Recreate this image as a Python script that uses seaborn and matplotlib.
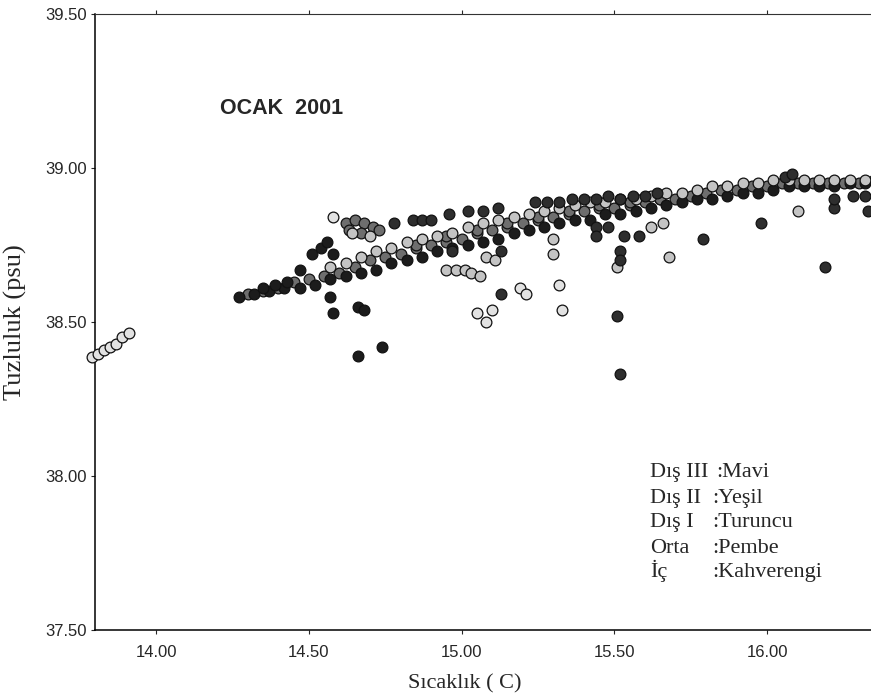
import numpy as np
import pandas as pd
import matplotlib
matplotlib.use("Agg")
import matplotlib.pyplot as plt
import seaborn as sns

# --- data (Sicaklik, Tuzluluk) ---

# Ic (Kahverengi): lower edge of the main band + dark points on the left
ic_T = [14.27, 14.32, 14.37, 14.42, 14.47, 14.52, 14.57, 14.62, 14.67, 14.72,
        14.77, 14.82, 14.87, 14.92, 14.97, 15.02, 15.07, 15.12, 15.17, 15.22,
        15.27, 15.32, 15.37, 15.42, 15.47, 15.52, 15.57, 15.62, 15.67, 15.72,
        15.77, 15.82, 15.87, 15.92, 15.97, 16.02, 16.07, 16.12, 16.17, 16.22,
        16.27, 16.32,
        14.35, 14.39, 14.43, 14.47, 14.57, 14.58, 14.66, 14.68, 14.66, 14.74,
        14.51, 14.54, 14.56, 14.58]
ic_S = [38.58, 38.59, 38.60, 38.61, 38.61, 38.62, 38.64, 38.65, 38.66, 38.67,
        38.69, 38.70, 38.71, 38.73, 38.74, 38.75, 38.76, 38.77, 38.79, 38.80,
        38.81, 38.82, 38.83, 38.83, 38.85, 38.85, 38.86, 38.87, 38.88, 38.89,
        38.90, 38.90, 38.91, 38.92, 38.92, 38.93, 38.94, 38.94, 38.94, 38.94,
        38.95, 38.95,
        38.61, 38.62, 38.63, 38.67, 38.58, 38.53, 38.55, 38.54, 38.39, 38.42,
        38.72, 38.74, 38.76, 38.72]

# Dis II (Yesil): middle of the band + blob on the upper arm
dis2_T = [14.30, 14.35, 14.40, 14.45, 14.50, 14.55, 14.60, 14.65, 14.70, 14.75,
          14.80, 14.85, 14.90, 14.95, 15.00, 15.05, 15.10, 15.15, 15.20, 15.25,
          15.30, 15.35, 15.40, 15.45, 15.50, 15.55, 15.60, 15.65, 15.70, 15.75,
          15.80, 15.85, 15.90, 15.95, 16.00, 16.05, 16.10, 16.15, 16.20, 16.25,
          16.30, 16.35,
          14.85, 14.95, 15.05, 15.15, 15.25, 15.35, 15.45, 15.55, 15.65,
          14.62, 14.65, 14.68, 14.71, 14.73, 14.63, 14.67]
dis2_S = [38.59, 38.60, 38.61, 38.63, 38.64, 38.65, 38.66, 38.68, 38.70, 38.71,
          38.72, 38.74, 38.75, 38.76, 38.77, 38.79, 38.80, 38.81, 38.82, 38.83,
          38.84, 38.85, 38.86, 38.87, 38.87, 38.88, 38.89, 38.90, 38.90, 38.91,
          38.92, 38.93, 38.93, 38.94, 38.94, 38.95, 38.95, 38.95, 38.95, 38.95,
          38.95, 38.96,
          38.75, 38.78, 38.80, 38.82, 38.84, 38.86, 38.88, 38.89, 38.90,
          38.82, 38.83, 38.82, 38.81, 38.80, 38.80, 38.79]

# Dis I (Turuncu): upper edge of the band + light points below it
dis1_T = [14.57, 14.62, 14.67, 14.72, 14.77, 14.82, 14.87, 14.92, 14.97, 15.02,
          15.07, 15.12, 15.17, 15.22, 15.27, 15.32, 15.37, 15.42, 15.47, 15.52,
          15.57, 15.62, 15.67, 15.72, 15.77, 15.82, 15.87, 15.92, 15.97, 16.02,
          16.07, 16.12, 16.17, 16.22, 16.27, 16.32,
          14.95, 14.98, 15.01, 15.03, 15.06, 15.08, 15.11, 15.30, 15.30, 15.51,
          15.68, 15.62, 15.66, 16.10, 14.70, 14.64]
dis1_S = [38.68, 38.69, 38.71, 38.73, 38.74, 38.76, 38.77, 38.78, 38.79, 38.81,
          38.82, 38.83, 38.84, 38.85, 38.86, 38.87, 38.88, 38.89, 38.89, 38.90,
          38.90, 38.91, 38.92, 38.92, 38.93, 38.94, 38.94, 38.95, 38.95, 38.96,
          38.96, 38.96, 38.96, 38.96, 38.96, 38.96,
          38.67, 38.67, 38.67, 38.66, 38.65, 38.71, 38.70, 38.77, 38.72, 38.68,
          38.71, 38.81, 38.82, 38.86, 38.78, 38.79]

# Orta (Pembe): cold cluster on the left + scattered light points
orta_T = [13.79, 13.81, 13.83, 13.85, 13.87, 13.89, 13.91,
          14.58, 15.05, 15.10, 15.08, 15.19, 15.21, 15.32, 15.33]
orta_S = [38.385, 38.395, 38.41, 38.42, 38.43, 38.45, 38.465,
          38.84, 38.53, 38.54, 38.50, 38.61, 38.59, 38.62, 38.54]

# Dis III (Mavi): dark row above the band + dark outliers
dis3_T = [14.78, 14.84, 14.87, 14.90, 14.96, 15.02, 15.07, 15.12, 15.24,
          15.28, 15.32, 15.36, 15.40, 15.44, 15.48, 15.52, 15.56, 15.60, 15.64,
          14.97, 15.13, 15.13, 15.51, 15.52, 15.44, 15.48, 15.44, 15.53, 15.58,
          15.52, 15.52, 15.79, 15.98, 16.19, 16.22, 16.22, 16.28, 16.32, 16.33,
          16.06, 16.08]
dis3_S = [38.82, 38.83, 38.83, 38.83, 38.85, 38.86, 38.86, 38.87, 38.89,
          38.89, 38.89, 38.90, 38.90, 38.90, 38.91, 38.90, 38.91, 38.91, 38.92,
          38.73, 38.73, 38.59, 38.52, 38.33, 38.81, 38.81, 38.78, 38.78, 38.78,
          38.73, 38.70, 38.77, 38.82, 38.68, 38.87, 38.90, 38.91, 38.91, 38.86,
          38.97, 38.98]

groups = ["Dış II", "İç", "Dış I", "Orta", "Dış III"]
series = {"İç": (ic_T, ic_S), "Dış II": (dis2_T, dis2_S), "Dış I": (dis1_T, dis1_S),
          "Orta": (orta_T, orta_S), "Dış III": (dis3_T, dis3_S)}
# scanned page is grayscale
shades = {"Dış III": "#2e2e2e", "Dış II": "#6e6e6e", "Dış I": "#c4c4c4",
          "Orta": "#e2e2e2", "İç": "#1c1c1c"}

legend_left = ["Dış III", "Dış II", "Dış I", "Orta", "İç"]
legend_right = [":Mavi", ":Yeşil", ":Turuncu", ":Pembe", ":Kahverengi"]

x_ticks = [14.00, 14.50, 15.00, 15.50, 16.00]
y_ticks = [37.50, 38.00, 38.50, 39.00, 39.50]

frames = []
for g in groups:
    t, s = series[g]
    frames.append(pd.DataFrame({"Sicaklik": t, "Tuzluluk": s, "grup": g}))
df = pd.concat(frames, ignore_index=True)

sns.set_style("ticks")
plt.rcParams["font.family"] = ["Liberation Sans", "DejaVu Sans"]

fig = plt.figure(figsize=(8.71, 6.99), dpi=100)
ax = fig.add_axes([95 / 871, 69 / 699, 776 / 871, 616 / 699])

for g in groups:
    sub = df[df["grup"] == g]
    sns.scatterplot(data=sub, x="Sicaklik", y="Tuzluluk", ax=ax, color=shades[g],
                    s=60, edgecolor="#111111", linewidth=0.9, legend=False,
                    clip_on=False, zorder=3)

ax.set_xlim(13.80, 16.34)
ax.set_ylim(37.50, 39.50)
ax.set_xticks(x_ticks)
ax.set_yticks(y_ticks)
ax.set_xticklabels([f"{v:.2f}" for v in x_ticks], fontsize=12)
ax.set_yticklabels([f"{v:.2f}" for v in y_ticks], fontsize=12)
ax.tick_params(axis="x", top=True, direction="out", length=3, width=0.8, pad=8)
ax.tick_params(axis="y", direction="out", length=3, width=0.8, pad=3)

for side in ["left", "bottom"]:
    ax.spines[side].set_linewidth(1.1)
    ax.spines[side].set_color("black")
ax.spines["top"].set_linewidth(0.8)
ax.spines["top"].set_color("#333333")
ax.spines["right"].set_visible(False)

serif = ["Liberation Serif", "DejaVu Serif"]
ax.set_xlabel("Sıcaklık ( C)", fontsize=16, family=serif)
ax.set_ylabel("Tuzluluk (psu)", fontsize=19, family=serif)
ax.xaxis.set_label_coords((465 - 95) / 776, -0.072)
ax.yaxis.set_label_coords((27 - 95) / 776, 0.5)

ax.text((220 - 95) / 776, 0.847, "OCAK  2001", transform=ax.transAxes,
        fontsize=15.5, fontweight="bold", va="center", ha="left")

baselines = [0.248, 0.206, 0.167, 0.125, 0.086]
for i, (a, b) in enumerate(zip(legend_left, legend_right)):
    ax.text(0.715, baselines[i], a, transform=ax.transAxes, fontsize=16,
            family=serif, va="baseline")
    xr = 0.800 if i == 0 else 0.796
    ax.text(xr, baselines[i], b, transform=ax.transAxes, fontsize=16,
            family=serif, va="baseline")

fig.savefig("out.png", dpi=100)
